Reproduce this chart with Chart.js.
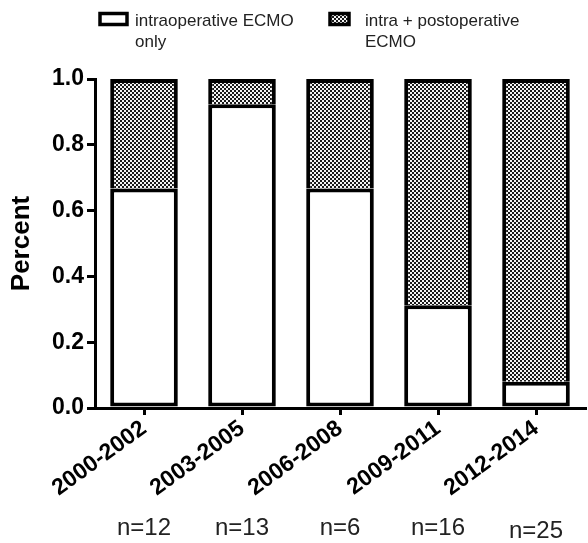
<!DOCTYPE html>
<html>
<head>
<meta charset="utf-8">
<script src="https://cdn.jsdelivr.net/npm/chart.js@4/dist/chart.umd.min.js"></script>
<style>
html,body{margin:0;padding:0;background:#fff}
#wrap{width:588px;height:543px;position:relative}
</style>
</head>
<body>
<div id="wrap"><canvas id="chart" width="588" height="543"></canvas></div>
<script>
// data
const periods=["2000-2002","2003-2005","2006-2008","2009-2011","2012-2014"];
const counts=["n=12","n=13","n=6","n=16","n=25"];
const intraOnly=[0.667,0.923,0.667,0.3125,0.08];
const intraPost=[0.333,0.077,0.333,0.6875,0.92];
const legendLabels=[["intraoperative ECMO","only"],["intra + postoperative","ECMO"]];
const FONT="'Liberation Sans', Arial, sans-serif";

// checkered fill like the print
function makePattern(){
  const c=document.createElement("canvas");c.width=4;c.height=4;
  const g=c.getContext("2d");
  g.fillStyle="#f4f4f4";g.fillRect(0,0,4,4);
  g.fillStyle="#1a1a1a";g.fillRect(0,0,2,2);g.fillRect(2,2,2,2);
  return g.createPattern(c,"repeat");
}
const pat=makePattern();

const extras={id:"extras",afterDraw(ch){
  const ctx=ch.ctx, x=ch.scales.x;
  ctx.save();
  ctx.fillStyle="#222";ctx.font="24px "+FONT;
  ctx.textAlign="center";ctx.textBaseline="middle";
  counts.forEach((t,i)=>{ctx.fillText(t,x.getPixelForValue(i),i===4?531:528)});
  // legend
  ctx.lineWidth=3.5;ctx.strokeStyle="#000";
  ctx.fillStyle="#fff";ctx.fillRect(100,13.5,27,11);ctx.strokeRect(100,13.5,27,11);
  ctx.fillStyle=pat;ctx.fillRect(330,13.5,19,11);ctx.strokeRect(330,13.5,19,11);
  ctx.fillStyle="#222";ctx.font="17px "+FONT;
  ctx.textAlign="left";ctx.textBaseline="alphabetic";
  legendLabels[0].forEach((t,k)=>ctx.fillText(t,135,26+k*21));
  legendLabels[1].forEach((t,k)=>ctx.fillText(t,365,26+k*21));
  ctx.restore();
}};

chart=new Chart(document.getElementById("chart"),{
  type:"bar",
  data:{labels:periods,datasets:[
    {label:legendLabels[0].join(" "),data:intraOnly,backgroundColor:"#fff",borderColor:"#000",borderWidth:4,borderSkipped:false},
    {label:legendLabels[1].join(" "),data:intraPost,backgroundColor:pat,borderColor:"#000",borderWidth:4,borderSkipped:"bottom"}
  ]},
  options:{animation:false,responsive:false,
    layout:{padding:{top:79,right:3,left:0,bottom:0}},
    datasets:{bar:{barPercentage:0.69,categoryPercentage:1}},
    plugins:{legend:{display:false},tooltip:{enabled:false}},
    scales:{
      x:{stacked:true,
        grid:{display:true,offset:false,drawOnChartArea:false,tickLength:7,color:"#000",lineWidth:3},
        border:{display:true,color:"#000",width:3},
        ticks:{color:"#000",font:{family:FONT,size:23,weight:"bold"},minRotation:36,maxRotation:36,padding:0},
        afterFit:s=>{s.height=135}},
      y:{stacked:true,min:0,max:1,
        grid:{display:true,drawOnChartArea:false,tickLength:8,color:"#000",lineWidth:3},
        border:{display:true,color:"#000",width:3},
        ticks:{stepSize:0.2,color:"#000",padding:3,font:{family:FONT,size:23,weight:"bold"},callback:v=>v.toFixed(1)},
        title:{display:true,text:"Percent",color:"#000",font:{family:FONT,size:26,weight:"bold"},padding:{top:6,bottom:4}},
        afterFit:s=>{s.width=95}}
    }},
  plugins:[extras]
});
</script>
</body>
</html>
